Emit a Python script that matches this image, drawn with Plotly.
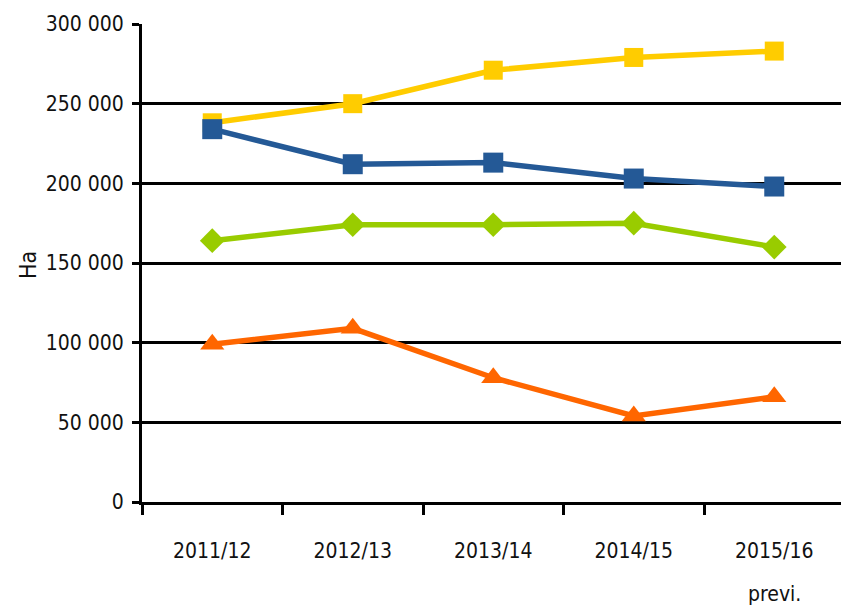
import plotly.graph_objects as go

categories = ["2011/12", "2012/13", "2013/14", "2014/15", "2015/16"]
category_note = "previ."
yellow_vals = [238000, 250000, 271000, 279000, 283000]
blue_vals = [234000, 212000, 213000, 203000, 198000]
green_vals = [164000, 174000, 174000, 175000, 160000]
orange_vals = [99000, 109000, 78000, 54000, 66000]
y_tick_vals = [0, 50000, 100000, 150000, 200000, 250000, 300000]
y_tick_text = ["0", "50 000", "100 000", "150 000", "200 000", "250 000", "300 000"]
y_title = "Ha"

FONT = "DejaVu Sans Condensed, Liberation Sans Narrow, Arial Narrow, Arial, sans-serif"

fig = go.Figure()
series = [
    (yellow_vals, "#FFCC00", "square", 19),
    (blue_vals, "#245996", "square", 20),
    (green_vals, "#99CC00", "diamond", 19),
    (orange_vals, "#FF6600", "triangle-up", 21),
]
for vals, col, sym, sz in series:
    fig.add_trace(go.Scatter(
        x=categories, y=vals, mode="lines+markers",
        line=dict(color=col, width=5.5),
        marker=dict(symbol=sym, size=sz, color=col),
        showlegend=False, cliponaxis=False, hoverinfo="skip",
    ))

PLOT_W = 841 - 142
PLOT_H = 502 - 24

fig.update_layout(
    width=841, height=608,
    margin=dict(l=142, r=0, t=24, b=106),
    paper_bgcolor="white", plot_bgcolor="white",
    font=dict(family=FONT, size=21, color="#111111"),
)
fig.update_xaxes(
    type="category", range=[-0.5, 4.475],
    showgrid=False, zeroline=False,
    showline=True, linecolor="black", linewidth=3,
    ticks="outside", tickson="boundaries", ticklen=10, tickwidth=3, tickcolor="black",
    ticklabelstandoff=28,
)
fig.update_yaxes(
    range=[0, 300000],
    tickvals=y_tick_vals, ticktext=y_tick_text,
    showgrid=True, gridcolor="black", gridwidth=3,
    zeroline=False,
    showline=True, linecolor="black", linewidth=3,
    ticks="outside", ticklen=7, tickwidth=3, tickcolor="black",
    ticklabelstandoff=4,
)
fig.add_annotation(
    x=categories[-1], xref="x", y=-(594 - 502) / PLOT_H, yref="paper",
    text=category_note, showarrow=False, xanchor="center", yanchor="middle",
    font=dict(family=FONT, size=21, color="#111111"),
)
fig.add_annotation(
    x=-(142 - 28) / PLOT_W, xref="paper", y=(502 - 265) / PLOT_H, yref="paper",
    text=y_title, showarrow=False, textangle=-90, xanchor="center", yanchor="middle",
    font=dict(family=FONT, size=23, color="#111111"),
)
fig.write_html(
    "out.html",
    config={"displayModeBar": False},
    post_script="document.body.style.margin='0';document.body.style.overflow='hidden';",
)
